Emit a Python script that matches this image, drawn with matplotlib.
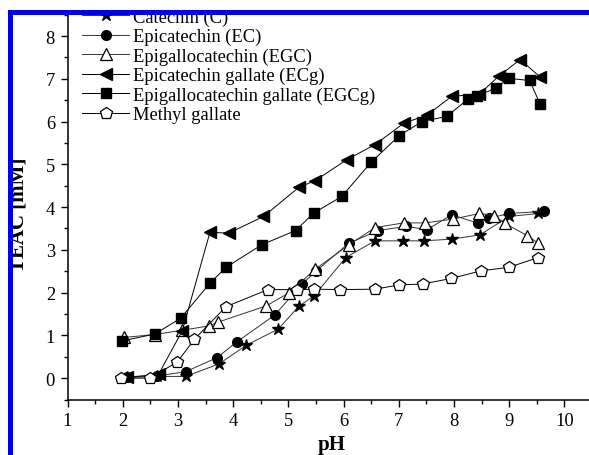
import matplotlib
matplotlib.use("Agg")
import matplotlib.pyplot as plt
from matplotlib.patches import Rectangle

plt.rcParams['font.family'] = ['Liberation Serif', 'DejaVu Serif']
plt.rcParams['mathtext.fontset'] = 'stix'

# pH vs TEAC [mM]
ph_c = [2.08, 2.62, 3.14, 3.74, 4.24, 4.82, 5.19, 5.47, 6.04, 6.57, 7.07, 7.45, 7.96, 8.47, 9.00, 9.53]
teac_c = [0.02, 0.04, 0.04, 0.33, 0.77, 1.15, 1.68, 1.93, 2.82, 3.21, 3.21, 3.21, 3.25, 3.35, 3.78, 3.85]

ph_ec = [2.08, 2.62, 3.14, 3.71, 4.07, 4.75, 5.25, 5.50, 6.09, 6.62, 7.14, 7.51, 7.96, 8.44, 8.64, 9.00, 9.63]
teac_ec = [0.02, 0.05, 0.15, 0.48, 0.85, 1.47, 2.20, 2.50, 3.15, 3.45, 3.55, 3.47, 3.82, 3.62, 3.74, 3.85, 3.90]

ph_egc = [2.02, 2.58, 3.08, 3.56, 3.73, 4.60, 5.02, 5.49, 6.09, 6.57, 7.09, 7.48, 7.99, 8.46, 8.73, 8.92, 9.33, 9.53]
teac_egc = [0.95, 1.02, 1.12, 1.22, 1.31, 1.69, 2.00, 2.55, 3.11, 3.52, 3.63, 3.63, 3.72, 3.85, 3.80, 3.62, 3.33, 3.15]

ph_ecg = [2.08, 2.65, 3.08, 3.58, 3.92, 4.55, 5.19, 5.49, 6.06, 6.57, 7.09, 7.51, 7.96, 8.46, 8.81, 9.20, 9.56]
teac_ecg = [0.02, 0.09, 1.11, 3.41, 3.39, 3.78, 4.46, 4.62, 5.11, 5.46, 5.96, 6.15, 6.59, 6.64, 7.06, 7.45, 7.04]

ph_egcg = [1.99, 2.58, 3.05, 3.58, 3.87, 4.52, 5.13, 5.46, 5.97, 6.50, 7.01, 7.42, 7.87, 8.26, 8.42, 8.76, 8.99, 9.37, 9.56]
teac_egcg = [0.87, 1.03, 1.40, 2.22, 2.59, 3.12, 3.45, 3.86, 4.25, 5.05, 5.67, 6.00, 6.12, 6.53, 6.60, 6.78, 7.01, 6.96, 6.41]

ph_mg = [1.96, 2.50, 2.99, 3.30, 3.87, 4.63, 5.16, 5.47, 5.94, 6.57, 7.01, 7.43, 7.95, 8.49, 8.99, 9.53]
teac_mg = [0.00, 0.00, 0.38, 0.91, 1.67, 2.07, 2.07, 2.08, 2.07, 2.08, 2.18, 2.20, 2.33, 2.51, 2.59, 2.82]

labels = ["Catechin (C)", "Epicatechin (EC)", "Epigallocatechin (EGC)",
          "Epicatechin gallate (ECg)", "Epigallocatechin gallate (EGCg)", "Methyl gallate"]

W, H = 589, 456
fig = plt.figure(figsize=(W / 100, H / 100), dpi=100)
# axes placed in pixels; the top and right run past the cropped figure
x0, x1 = 67.5, 592.0
yb, yt = 400.5, -5.75
ax = fig.add_axes([x0 / W, (H - yb) / H, (x1 - x0) / W, (yb - yt) / H])

ax.plot(ph_c, teac_c, color='#333333', lw=0.7, marker='*', ms=9,
        mfc='black', mec='black', label=labels[0])
ax.plot(ph_ec, teac_ec, color='#333333', lw=0.7, marker='o', ms=7,
        mfc='black', mec='black', label=labels[1])
ax.plot(ph_egc, teac_egc, color='#333333', lw=0.7, marker='^', ms=8,
        mfc='white', mec='black', mew=0.9, label=labels[2])
ax.plot(ph_ecg, teac_ecg, color='black', lw=0.7, marker='<', ms=8,
        mfc='black', mec='black', label=labels[3])
ax.plot(ph_egcg, teac_egcg, color='black', lw=0.7, marker='s', ms=6.5,
        mfc='black', mec='black', label=labels[4])
ax.plot(ph_mg, teac_mg, color='black', lw=0.7, marker='p', ms=9,
        mfc='white', mec='black', mew=0.9, label=labels[5])

ax.set_xlim(1, 10.5)
ax.set_ylim(-0.5, 9)
ax.set_xticks(range(1, 11))
ax.set_yticks(range(0, 9))
ax.set_xticks([i + 0.5 for i in range(1, 10)], minor=True)
ax.set_yticks([i - 0.5 for i in range(0, 10)], minor=True)
ax.tick_params(which='major', direction='out', length=5, width=1, labelsize=13.3, pad=4)
ax.tick_params(which='minor', direction='out', length=3, width=1)
for s in ['top', 'right']:
    ax.spines[s].set_visible(False)
for s in ['left', 'bottom']:
    ax.spines[s].set_linewidth(1.1)

ax.set_xlabel("pH", fontsize=15, fontweight='bold')
ax.xaxis.set_label_coords((332 - x0) / (x1 - x0), (yb - 435) / (yb - yt))
ax.set_ylabel("TEAC [mM]", fontsize=15, fontweight='bold')
ax.yaxis.set_label_coords((19 - x0) / (x1 - x0), (yb - 215) / (yb - yt))
ax.yaxis.label.set_va('center')

ax.legend(loc='upper left', bbox_to_anchor=(82 / W, 1 - 9.5 / H),
          bbox_transform=fig.transFigure, frameon=False, fontsize=13.3,
          borderpad=0, borderaxespad=0, handlelength=2.55, handletextpad=0.2,
          labelspacing=0.12)

# cropped frame: white margins with a blue border on top and left
fig.patches.append(Rectangle((0, 1 - 11 / H), 1, 11 / H, transform=fig.transFigure,
                             facecolor='white', edgecolor='none', zorder=10))
fig.patches.append(Rectangle((0, 0), 8 / W, 1, transform=fig.transFigure,
                             facecolor='white', edgecolor='none', zorder=10))
fig.patches.append(Rectangle((8 / W, 1 - 16 / H), 1, 5 / H, transform=fig.transFigure,
                             facecolor='#0000ee', edgecolor='none', zorder=11))
fig.patches.append(Rectangle((8 / W, 0), 5 / W, 1 - 11 / H, transform=fig.transFigure,
                             facecolor='#0000ee', edgecolor='none', zorder=11))

fig.savefig("out.png", dpi=100)
